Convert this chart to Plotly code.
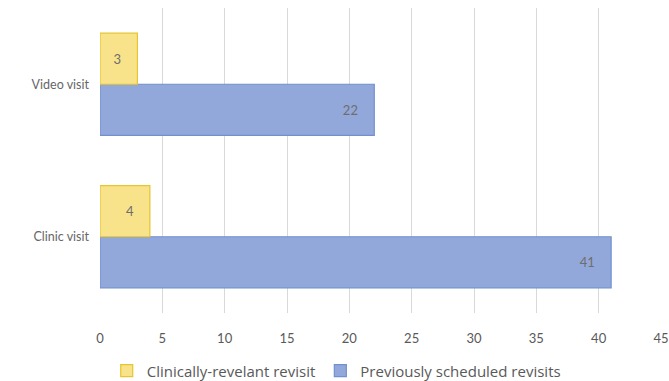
import plotly.graph_objects as go

categories = ["Clinic visit", "Video visit"]
clinically_relevant = [4, 3]
previously_scheduled = [41, 22]
x_ticks = [0, 5, 10, 15, 20, 25, 30, 35, 40, 45]

pad = "\u00a0" * 4

fig = go.Figure()
fig.add_trace(go.Bar(
    y=categories, x=previously_scheduled, orientation="h",
    name="Previously scheduled revisits",
    marker=dict(color="#93A8DA", line=dict(color="#7090D0", width=1.2)),
    text=previously_scheduled, texttemplate="%{x}" + pad,
    textposition="inside", insidetextanchor="end",
    textfont=dict(color="#6E6E6E", size=13),
))
fig.add_trace(go.Bar(
    y=categories, x=clinically_relevant, orientation="h",
    name="Clinically-revelant revisit",
    marker=dict(color="#F9E38A", line=dict(color="#E6C530", width=1.2)),
    text=clinically_relevant, texttemplate="%{x}" + pad,
    textposition="inside", insidetextanchor="end",
    textfont=dict(color="#6E6E6E", size=13),
))

fig.update_layout(
    width=669, height=381,
    margin=dict(l=100, r=8, t=8, b=68, autoexpand=False),
    paper_bgcolor="white", plot_bgcolor="white",
    barmode="group", bargap=0.33, bargroupgap=0,
    font=dict(family="Lato, Open Sans, sans-serif", size=12, color="#595959"),
    showlegend=True,
    legend=dict(orientation="h", x=0.012, xanchor="left", y=-0.19, yanchor="middle",
                traceorder="reversed",
                font=dict(family="Open Sans, sans-serif", size=15, color="#595959"),
                itemwidth=30),
    xaxis=dict(range=[0, 45], tickvals=x_ticks, showgrid=True, gridcolor="#D9D9D9",
               gridwidth=1, zeroline=False, showline=False, ticks="",
               ticklabelstandoff=16,
               tickfont=dict(size=13, color="#595959")),
    yaxis=dict(showgrid=False, zeroline=False, showline=False, ticks="",
               ticklabelstandoff=10, tickfont=dict(size=12.5, color="#666666")),
    uniformtext=dict(minsize=10, mode="show"),
)

fig.write_html("out.html")
